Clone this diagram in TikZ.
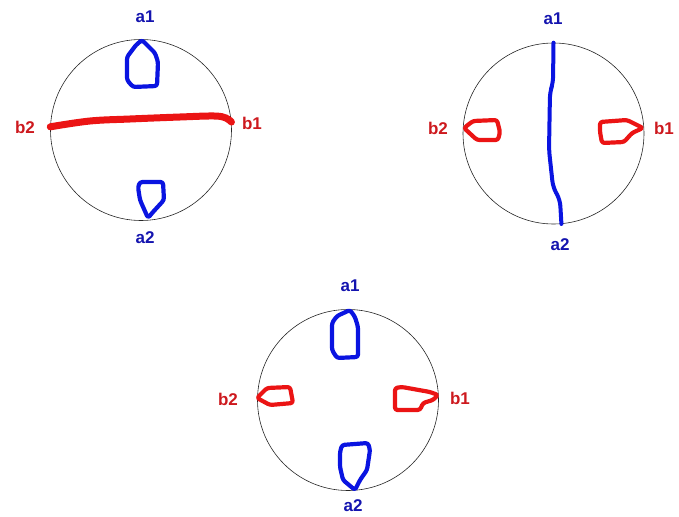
\documentclass[tikz,border=0pt]{standalone}
\usepackage{fontspec}
\setmainfont{Liberation Sans}
\usepackage{tikz}
\usetikzlibrary{positioning, calc}
\definecolor{penblue}{RGB}{10, 20, 225}
\definecolor{penred}{RGB}{235, 20, 20}
\definecolor{inkblue}{RGB}{20, 20, 175}
\definecolor{inkred}{RGB}{205, 25, 30}

\begin{document}
\begin{tikzpicture}[x=1pt, y=-1pt,
    disk/.style={circle, draw=black!85, line width=0.6pt, minimum size=181pt, inner sep=0pt},
    alab/.style={font=\fontsize{17}{20}\selectfont\bfseries, text=inkblue},
    blab/.style={font=\fontsize{17}{20}\selectfont\bfseries, text=inkred},
    aloop/.style={draw=penblue, line width=4.2pt, line join=round, rounded corners=2.5pt},
    bloop/.style={draw=penred, line width=4.2pt, line join=round, rounded corners=2.5pt},
    aline/.style={draw=penblue, line width=4pt, line cap=round, line join=round, rounded corners=6pt},
    bline/.style={draw=penred, line width=7pt, line cap=round}
]
    \useasboundingbox (0,0) rectangle (679,516);

    \node[disk] (c1) at (141,130) {};
    \node[disk] (c2) at (553.5,133.5) {};
    \node[disk] (c3) at (348,400) {};

    \node[alab] (c1a1) at (145,17) {a1};
    \node[alab] (c1a2) at (145,238) {a2};
    \node[blab] (c1b1) at (252,123) {b1};
    \node[blab] (c1b2) at (25,127) {b2};

    \node[alab] (c2a1) at (553,19) {a1};
    \node[alab] (c2a2) at (560,245) {a2};
    \node[blab] (c2b1) at (664,128) {b1};
    \node[blab] (c2b2) at (438,128) {b2};

    \node[alab] (c3a1) at (350,286) {a1};
    \node[alab] (c3a2) at (353,506) {a2};
    \node[blab] (c3b1) at (460,398) {b1};
    \node[blab] (c3b2) at (228,399) {b2};

    \draw[bline] plot[smooth, tension=0.6] coordinates {(c1.178) (90,121) (130,119)
        (180,117) (214,116) (226,118) (c1.5)};
    \draw[aloop] (142,40) -- (155,53) -- (158,62) -- (157,86) -- (133,87) -- (127,80)
        -- (127,57) -- (136,45) -- cycle;
    \draw[aloop] (140,182) -- (163,182) -- (164,200) -- (153,212) -- (148,218)
        -- (140,200) -- (138,187) -- cycle;

    \draw[aline] (c2.north) -- (553,83) -- (550,92) -- (549,150) -- (553,187)
        -- (560,200) -- (c2.-85);
    \draw[bloop] (464,128) -- (473,121) -- (497,120) -- (500,132) -- (498,140)
        -- (477,140) -- cycle;
    \draw[bloop] (600,122) -- (627,120) -- (643,128) -- (632,133) -- (624,142)
        -- (602,143) -- (600,132) -- cycle;

    \draw[aloop] (350,310) -- (355,317) -- (358,327) -- (358,357) -- (337,358)
        -- (332,350) -- (332,323) -- (337,316) -- cycle;
    \draw[aloop] (342,445) -- (368,443) -- (370,450) -- (367,470) -- (360,480)
        -- (355,490) -- (343,480) -- (340,467) -- (340,452) -- cycle;
    \draw[bloop] (257,398) -- (267,388) -- (290,387) -- (293,403) -- (270,405)
        -- cycle;
    \draw[bloop] (395,388) -- (402,387) -- (430,392) -- (438,395) -- (433,400)
        -- (423,403) -- (420,410) -- (395,410) -- (395,400) -- cycle;
\end{tikzpicture}
\end{document}
